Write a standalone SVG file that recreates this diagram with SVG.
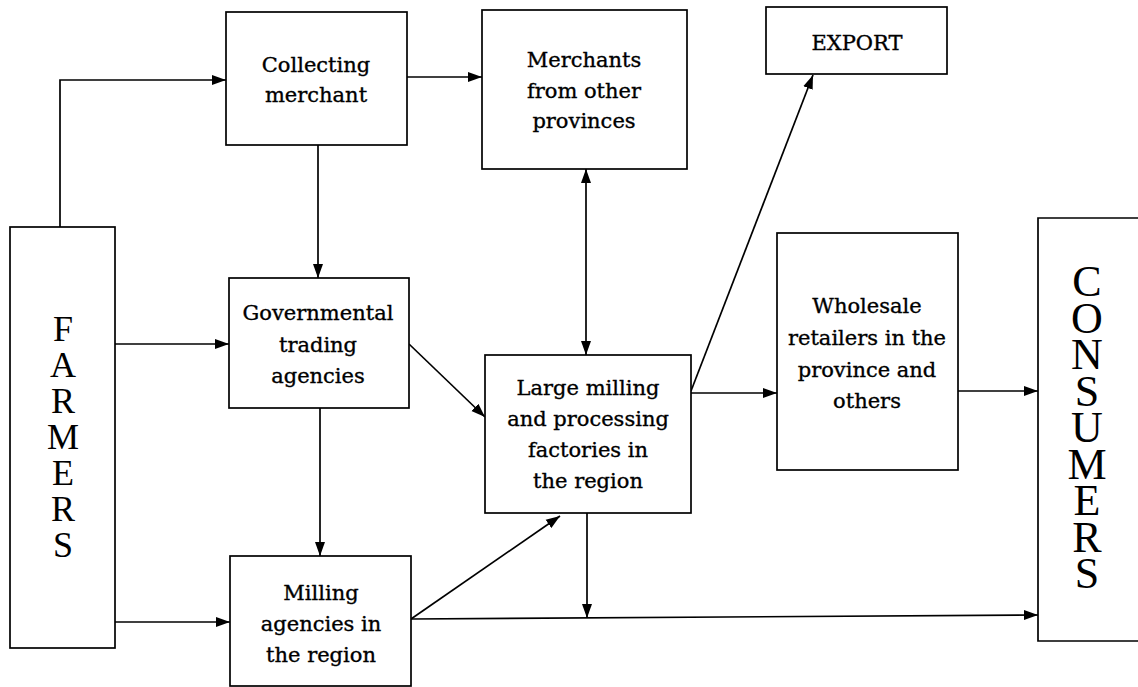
<svg xmlns="http://www.w3.org/2000/svg" width="1138" height="687" viewBox="0 0 1138 687">
<style>
.box{fill:#fff;stroke:#000;stroke-width:1.7}
.lbl{font-family:"DejaVu Serif","Liberation Serif",serif;font-size:21px;fill:#000;text-anchor:middle;stroke:#000;stroke-width:0.35}
.vert{font-family:"Liberation Serif","DejaVu Serif",serif;fill:#000;writing-mode:vertical-rl;text-orientation:upright}
.ln{fill:none;stroke:#000;stroke-width:1.7}
</style>
<defs>
<marker id="ah" markerUnits="userSpaceOnUse" markerWidth="15" markerHeight="11" refX="14" refY="5.5" orient="auto-start-reverse">
<path d="M0,0.5 L14,5.5 L0,10.5 z" fill="#000"/>
</marker>
</defs>
<rect x="0" y="0" width="1138" height="687" fill="#fff"/>
<g id="connectors">
<path class="ln" d="M60,227 V80 H226" marker-end="url(#ah)"/>
<path class="ln" d="M407,77 H482" marker-end="url(#ah)"/>
<path class="ln" d="M318,145 V278" marker-end="url(#ah)"/>
<path class="ln" d="M115,344 H229" marker-end="url(#ah)"/>
<path class="ln" d="M320,408 V556" marker-end="url(#ah)"/>
<path class="ln" d="M115,622 H230" marker-end="url(#ah)"/>
<path class="ln" d="M409,344 L485,417" marker-end="url(#ah)"/>
<path class="ln" d="M586,169 V355" marker-start="url(#ah)" marker-end="url(#ah)"/>
<path class="ln" d="M691,391 L813,75" marker-end="url(#ah)"/>
<path class="ln" d="M691,393 H777" marker-end="url(#ah)"/>
<path class="ln" d="M958,391 H1038" marker-end="url(#ah)"/>
<path class="ln" d="M411,619 L560,516" marker-end="url(#ah)"/>
<path class="ln" d="M411,619 L1038,615" marker-end="url(#ah)"/>
<path class="ln" d="M587,513 V618" marker-end="url(#ah)"/>
</g>
<g id="farmers">
<rect class="box" x="10" y="227" width="105" height="421"/>
<text class="vert" font-size="36" letter-spacing="-4" x="63" y="309">FARMERS</text>
</g>
<g id="collecting">
<rect class="box" x="226" y="12" width="181" height="133"/>
<text class="lbl"><tspan x="316" y="72">Collecting</tspan><tspan x="316" y="102">merchant</tspan></text>
</g>
<g id="merchants">
<rect class="box" x="482" y="10" width="205" height="159"/>
<text class="lbl"><tspan x="584" y="67">Merchants</tspan><tspan x="584" y="98">from other</tspan><tspan x="584" y="128">provinces</tspan></text>
</g>
<g id="export">
<rect class="box" x="766" y="7" width="181" height="67"/>
<text class="lbl"><tspan x="857" y="50">EXPORT</tspan></text>
</g>
<g id="governmental">
<rect class="box" x="229" y="278" width="180" height="130"/>
<text class="lbl"><tspan x="318" y="320">Governmental</tspan><tspan x="318" y="352">trading</tspan><tspan x="318" y="383">agencies</tspan></text>
</g>
<g id="large">
<rect class="box" x="485" y="355" width="206" height="158"/>
<text class="lbl"><tspan x="588" y="395">Large milling</tspan><tspan x="588" y="426">and processing</tspan><tspan x="588" y="457">factories in</tspan><tspan x="588" y="488">the region</tspan></text>
</g>
<g id="wholesale">
<rect class="box" x="777" y="233" width="181" height="237"/>
<text class="lbl"><tspan x="867" y="313">Wholesale</tspan><tspan x="867" y="345">retailers in the</tspan><tspan x="867" y="377">province and</tspan><tspan x="867" y="408">others</tspan></text>
</g>
<g id="milling">
<rect class="box" x="230" y="556" width="181" height="130"/>
<text class="lbl"><tspan x="321" y="600">Milling</tspan><tspan x="321" y="631">agencies in</tspan><tspan x="321" y="662">the region</tspan></text>
</g>
<g id="consumers">
<path class="box" d="M1145,218 H1038 V641 H1145"/>
<text class="vert" font-size="44" letter-spacing="-12.5" x="1087" y="257">CONSUMERS</text>
</g>
</svg>
